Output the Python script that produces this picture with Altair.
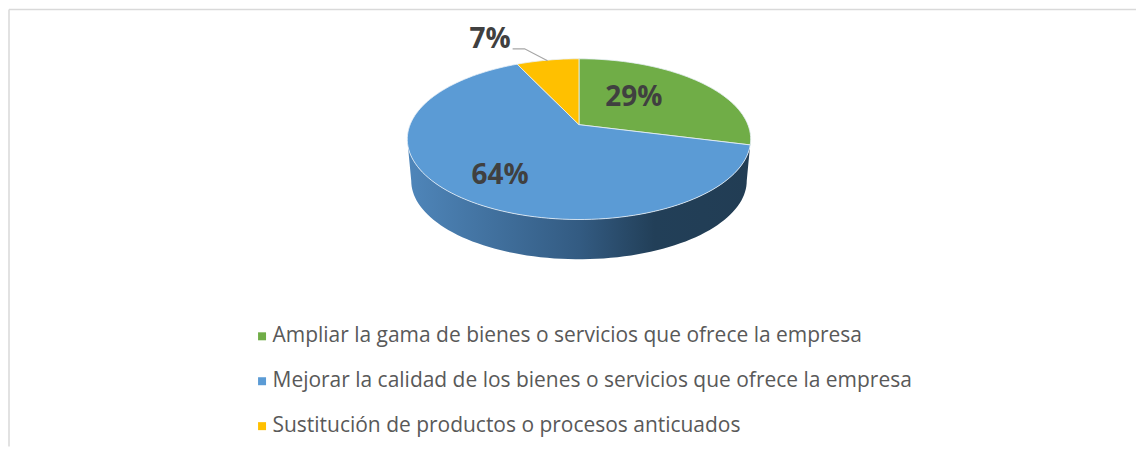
import math
import altair as alt
import pandas as pd

categories = [
    "Ampliar la gama de bienes o servicios que ofrece la empresa",
    "Mejorar la calidad de los bienes o servicios que ofrece la empresa",
    "Sustitución de productos o procesos anticuados",
]
values = [29, 64, 7]
labels = ["29%", "64%", "7%"]
colors = ["#70ad47", "#5b9bd5", "#ffc000"]

# perspective disc geometry, in plot pixels
CX, CY = 571.0, 115.5
K, A, B = 0.18, 169.2, 77.9
DEPTH_SCALE, DEPTH = 0.977, 42.0


def rim(theta, scale=1.0, dy=0.0):
    t = math.radians(theta)
    x, y = math.sin(t), math.cos(t)
    d = 1 + K * y
    return [CX + scale * A * x / d, CY + dy - scale * B * y / d]


def sweep(a, b, step=2.0):
    n = max(2, int(abs(b - a) / step))
    return [a + (b - a) * i / n for i in range(n + 1)]


def poly(coords, **props):
    return {"type": "Feature", "properties": props,
            "geometry": {"type": "Polygon", "coordinates": [coords + [coords[0]]]}}


wedges = []
start = 0.0
for cat, v in zip(categories, values):
    end = start + v * 3.6
    pts = [[CX, CY]] + [rim(t) for t in sweep(start, end)]
    wedges.append(poly(pts, category=cat))
    start = end

t0 = math.degrees(math.acos(-K))
wall_pts = [rim(t) for t in sweep(t0, 360 - t0)] + \
           [rim(t, DEPTH_SCALE, DEPTH) for t in sweep(360 - t0, t0)]
wall = [poly(wall_pts, category="wall")]
leader = [{"type": "Feature", "properties": {},
           "geometry": {"type": "LineString",
                        "coordinates": [[504.5, 39.5], [516.5, 39.5], [539.5, 51.5]]}}]


def geo(features):
    return alt.InlineData(values={"type": "FeatureCollection", "features": features},
                          format=alt.DataFormat(property="features", type="json"))


proj = dict(type="identity", scale=1, translate=[0, 0])

wall_layer = alt.Chart(geo(wall)).mark_geoshape(
    fill=alt.Gradient(gradient="linear", x1=0, x2=1, y1=0, y2=0, stops=[
        alt.GradientStop(offset=0, color="#4f86ba"),
        alt.GradientStop(offset=0.5, color="#335b82"),
        alt.GradientStop(offset=0.72, color="#223f58"),
        alt.GradientStop(offset=1, color="#223d54"),
    ]),
    strokeWidth=0,
).project(**proj)

wedge_layer = alt.Chart(geo(wedges)).mark_geoshape(
    stroke="#e8f0f8", strokeWidth=0.8
).encode(
    color=alt.Color(
        "properties.category:N",
        scale=alt.Scale(domain=categories, range=colors),
        legend=alt.Legend(
            title=None, orient="none", legendX=243, legendY=317, symbolType="square",
            symbolSize=64, symbolStrokeWidth=0, labelFont="Open Sans", labelFontSize=21,
            labelColor="#595959", rowPadding=23, labelLimit=800, symbolOffset=0,
            labelOffset=0,
        ),
    )
).project(**proj)

leader_layer = alt.Chart(geo(leader)).mark_geoshape(
    filled=False, stroke="#a6a6a6", strokeWidth=1.2
).project(**proj)

label_df = pd.DataFrame({"label": labels, "lx": [626, 492, 482], "ly": [89, 166.5, 31]})
text_layer = alt.Chart(label_df).mark_text(
    font="Open Sans", fontWeight="bold", fontSize=28, color="#404040"
).encode(
    x=alt.X("lx:Q", scale=None), y=alt.Y("ly:Q", scale=None), text="label:N"
)

frame_left = alt.Chart(pd.DataFrame({"a": [0]})).mark_rule(color="#d9d9d9", strokeWidth=1.5).encode(
    x=alt.value(0), y=alt.value(0), y2=alt.value(438))
frame_top = alt.Chart(pd.DataFrame({"a": [0]})).mark_rule(color="#d9d9d9", strokeWidth=1.5).encode(
    y=alt.value(0), x=alt.value(0), x2=alt.value(1129))

chart = alt.layer(
    frame_left, frame_top, wall_layer, wedge_layer, leader_layer, text_layer
).properties(width=1129, height=438, padding=0, background="white").configure_view(stroke=None)

chart.save("out.html", embed_options={"renderer": "svg", "actions": False})
